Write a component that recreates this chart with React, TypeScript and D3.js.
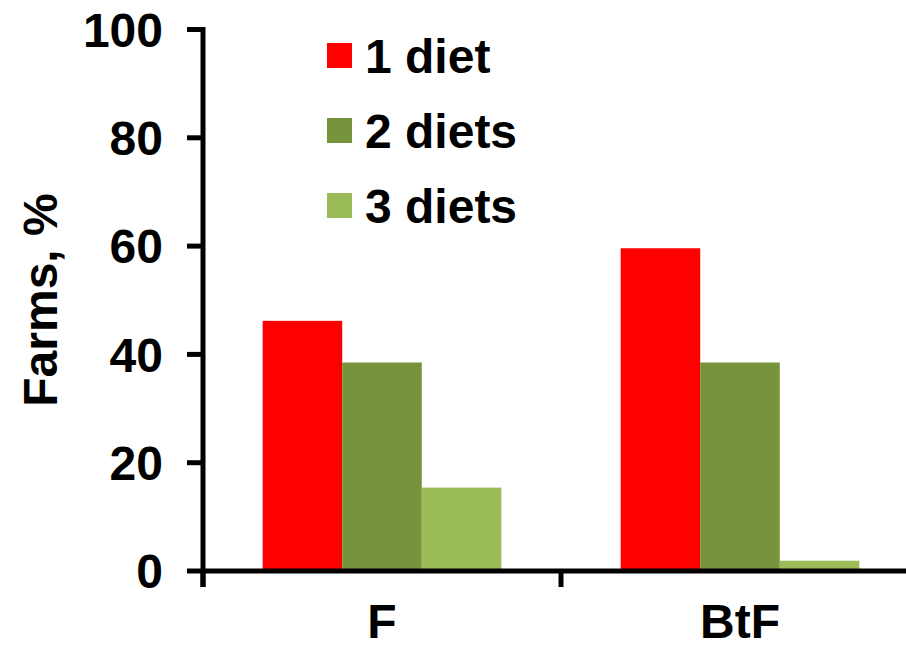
import React from "react";
import * as d3 from "d3";

const categories = ["F", "BtF"];
const seriesNames = ["1 diet", "2 diets", "3 diets"];
const seriesColors = ["#FF0000", "#77933C", "#9BBB59"];
// percent of farms per category, one array per series
const oneDiet = [46.2, 59.6];
const twoDiets = [38.5, 38.5];
const threeDiets = [15.4, 1.9];
const yTicks = [0, 20, 40, 60, 80, 100];

const seriesValues = [oneDiet, twoDiets, threeDiets];

const W = 906;
const H = 649;
const FONT = "Arial, 'Liberation Sans', Helvetica, sans-serif";
const FS = 48;

export default function App() {
  const y = d3.scaleLinear().domain([0, 100]).range([571, 29.5]);
  const x0 = d3.scaleBand<string>().domain(categories).range([203, 919]).padding(0);
  const bw = x0.bandwidth();
  const x1 = d3
    .scaleBand<string>()
    .domain(seriesNames)
    .range([bw / 6, (bw * 5) / 6])
    .padding(0);

  const boundaries = [x0.range()[0], ...categories.map((c) => (x0(c) as number) + bw)];

  return (
    <svg
      width={W}
      height={H}
      style={{ position: "absolute", left: 0, top: 0, background: "#fff" }}
      fontFamily={FONT}
      fontWeight="bold"
    >
      <rect width={W} height={H} fill="#fff" />
      {/* bars */}
      {categories.map((c, ci) =>
        seriesNames.map((s, si) => (
          <rect
            key={c + s}
            x={(x0(c) as number) + (x1(s) as number)}
            y={y(seriesValues[si][ci])}
            width={x1.bandwidth()}
            height={y(0) - y(seriesValues[si][ci])}
            fill={seriesColors[si]}
          />
        ))
      )}
      {/* y axis */}
      <line x1={203} x2={203} y1={y(100) - 2.5} y2={587} stroke="#000" strokeWidth={5} />
      {yTicks.map((t) => (
        <g key={t}>
          <line x1={187} x2={203} y1={y(t)} y2={y(t)} stroke="#000" strokeWidth={5} />
          <text x={163} y={y(t)} dy="0.36em" textAnchor="end" fontSize={FS} fill="#000">
            {t}
          </text>
        </g>
      ))}
      {/* x axis */}
      <line x1={203} x2={W} y1={y(0)} y2={y(0)} stroke="#000" strokeWidth={5} />
      {boundaries.map((b, i) => (
        <line key={i} x1={b} x2={b} y1={y(0)} y2={587} stroke="#000" strokeWidth={5} />
      ))}
      {categories.map((c) => (
        <text
          key={c}
          x={(x0(c) as number) + bw / 2}
          y={638}
          textAnchor="middle"
          fontSize={FS}
          fill="#000"
        >
          {c}
        </text>
      ))}
      {/* y title */}
      <text
        transform={`translate(57,300) rotate(-90)`}
        textAnchor="middle"
        fontSize={FS}
        fill="#000"
      >
        Farms, %
      </text>
      {/* legend */}
      {seriesNames.map((s, i) => (
        <g key={s} transform={`translate(327,${43 + i * 75})`}>
          <rect width={25} height={25} fill={seriesColors[i]} />
          <text x={38} y={30} fontSize={FS} fill="#000">
            {s}
          </text>
        </g>
      ))}
    </svg>
  );
}
